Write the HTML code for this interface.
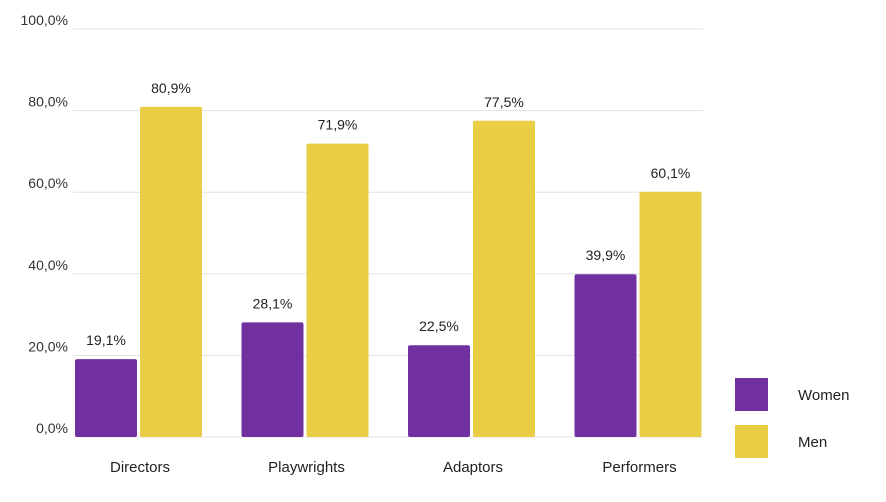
<!DOCTYPE html>
<html><head><meta charset="utf-8"><style>
body{margin:0;background:#fff;width:886px;height:497px;overflow:hidden;font-family:"Liberation Sans",sans-serif}
</style></head><body>
<svg id="chart" width="886" height="497" xmlns="http://www.w3.org/2000/svg"></svg>
<script>
const categories=["Directors","Playwrights","Adaptors","Performers"];
const women=[19.1,28.1,22.5,39.9];
const men=[80.9,71.9,77.5,60.1];
const ticks=[0,20,40,60,80,100];
const tickLabels=["0,0%","20,0%","40,0%","60,0%","80,0%","100,0%"];
const svg=document.getElementById('chart');
const NS="http://www.w3.org/2000/svg";
const y0=437,y100=29,x0=73,x1=703,pitch=166.5,bw=62;
const y=v=>y0-(y0-y100)*v/100;
function mk(t,a,txt){const e=document.createElementNS(NS,t);for(const k in a)e.setAttribute(k,a[k]);if(txt!==undefined)e.textContent=txt;svg.appendChild(e);return e;}
ticks.forEach((t,i)=>{
 const g=mk('line',{x1:x0,x2:x1,y1:y(t),y2:y(t),stroke:'#e3e3e3','stroke-width':1});
 
 
 const l=mk('text',{x:68,y:y(t)-4,'text-anchor':'end','font-size':14,fill:'#333'},tickLabels[i]);
 
 
});
const fmt=v=>v.toFixed(1).replace('.',',')+'%';
categories.forEach((c,i)=>{
 const gx=x0+2+i*pitch;
 [[women[i],'#7030a0',gx,'bar-women'],[men[i],'#e8cd45',gx+65,'bar-men']].forEach(([v,col,bx,n])=>{
  const r=mk('rect',{x:bx,y:y(v),width:bw,height:y0-y(v),fill:col,rx:2});
  
  
  const t=mk('text',{x:bx+bw/2,y:y(v)-14,'text-anchor':'middle','font-size':14,fill:'#222'},fmt(v));
  
  
 });
 const cl=mk('text',{x:gx+65,y:472,'text-anchor':'middle','font-size':15,fill:'#222'},c);
 
 
});
[['Women','#7030a0',378],['Men','#e8cd45',425]].forEach(([n,col,ly])=>{
 const r=mk('rect',{x:735,y:ly,width:33,height:33,fill:col});
 
 
 const t=mk('text',{x:798,y:ly+22,'font-size':15,fill:'#222'},n);
 
 
});
</script>
</body></html>
